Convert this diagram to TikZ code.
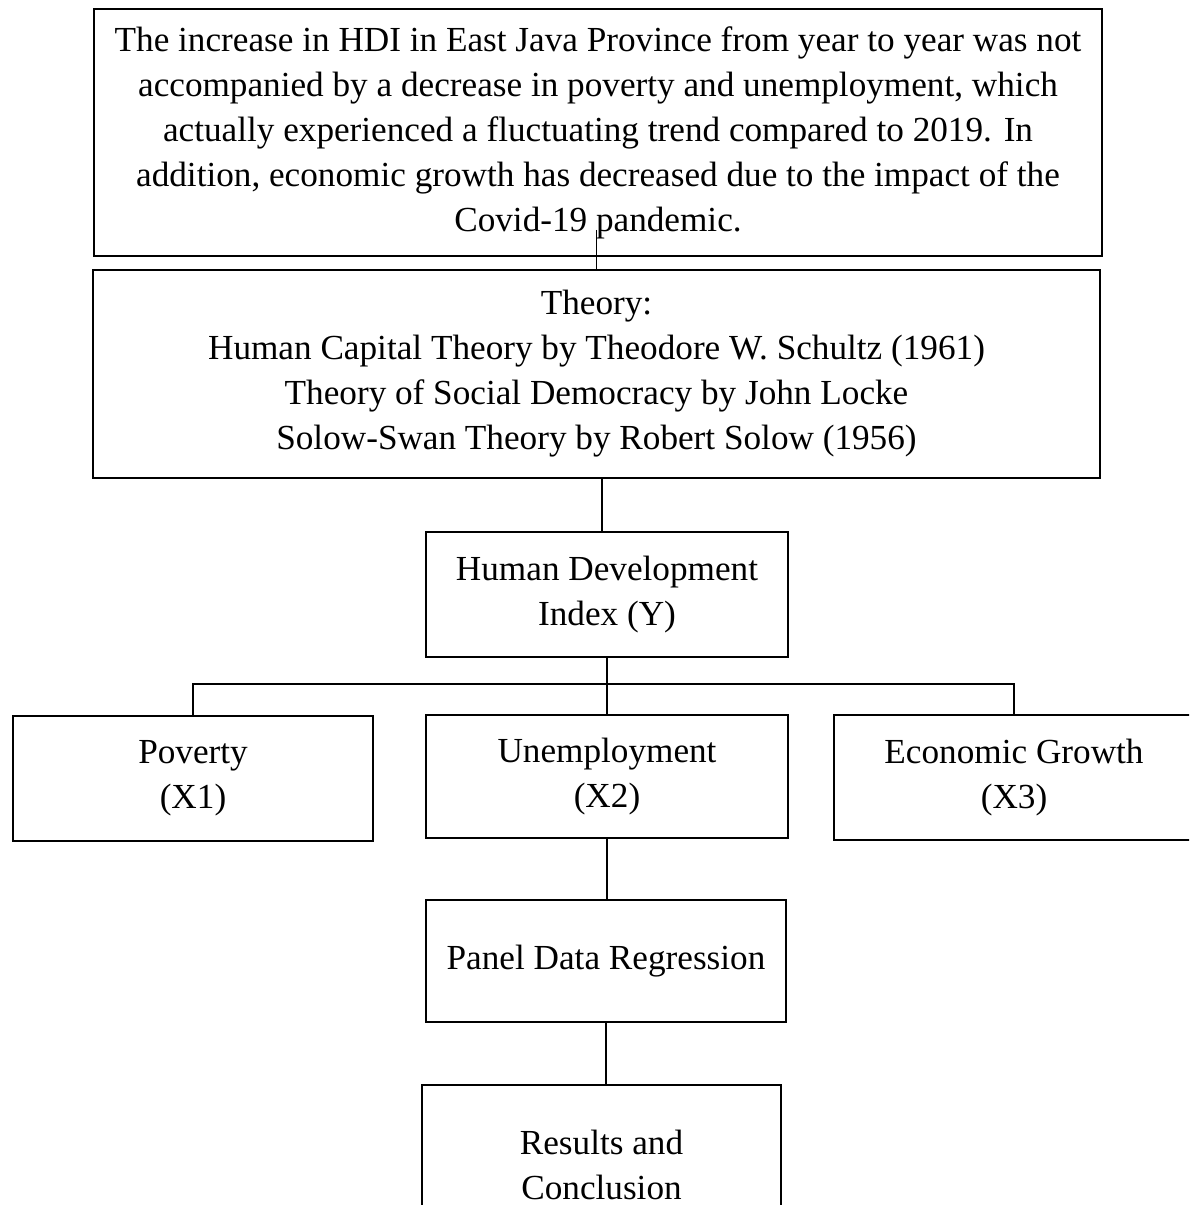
\documentclass[tikz,border=0pt]{standalone}
\usepackage{fontspec}
\setmainfont{Liberation Serif}
\begin{document}
\begin{tikzpicture}[x=0.75pt,y=0.75pt,yscale=-1,xscale=1,
  box/.style={draw,line width=2pt,align=center,inner sep=0pt,font=\fontsize{26.4}{33.75}\selectfont},
  link/.style={line width=1.3pt}]
%set diagram area to the reference size
\useasboundingbox (0,0) rectangle (1189,1205);
\clip (0,0) rectangle (1189,1205);

% Text Nodes
\node [box,minimum width=756pt,minimum height=185.25pt] (problem) at (598,132.5) {The increase in HDI in East Java Province from year to year was not\\accompanied by a decrease in poverty and unemployment, which\\actually experienced a fluctuating trend compared to 2019. In\\addition, economic growth has decreased due to the impact of the\\Covid-19 pandemic.};
\node [box,minimum width=755.25pt,minimum height=156pt] (theory) at (596.5,374) {Theory:\\Human Capital Theory by Theodore W. Schultz (1961)\\Theory of Social Democracy by John Locke\\Solow-Swan Theory by Robert Solow (1956)};
\node [box,minimum width=271.5pt,minimum height=93.75pt] (hdi) at (607,594.5) {Human Development\\Index (Y)};
\node [box,minimum width=270pt,minimum height=93.75pt] (poverty) at (193,778.5) {Poverty\\(X1)};
\node [box,minimum width=271.5pt,minimum height=92.25pt] (unemp) at (607,776.5) {Unemployment\\(X2)};
\node [box,minimum width=270pt,minimum height=93.75pt] (growth) at (1014,777.5) {Economic Growth\\(X3)};
\node [box,minimum width=270pt,minimum height=91.5pt] (panel) at (606,961) {Panel Data Regression};
\node [box,minimum width=269.25pt,minimum height=120pt] (result) at (601.5,1165) {Results and\\Conclusion};

% Straight Lines
\coordinate (stub) at (596.5,230);
\coordinate (bus) at (607,684);
\draw [link] (stub) -- (theory.north);
\draw [link] ([xshift=4pt]theory.south) -- ([xshift=4pt]theory.south |- hdi.north);
\draw [link] (hdi.south) -- (unemp.north);
\draw [link] (poverty.north) |- (bus) -| (growth.north);
\draw [link] (unemp.south) -- (unemp.south |- panel.north);
\draw [link] (panel.south) -- (panel.south |- result.north);

\end{tikzpicture}
\end{document}
